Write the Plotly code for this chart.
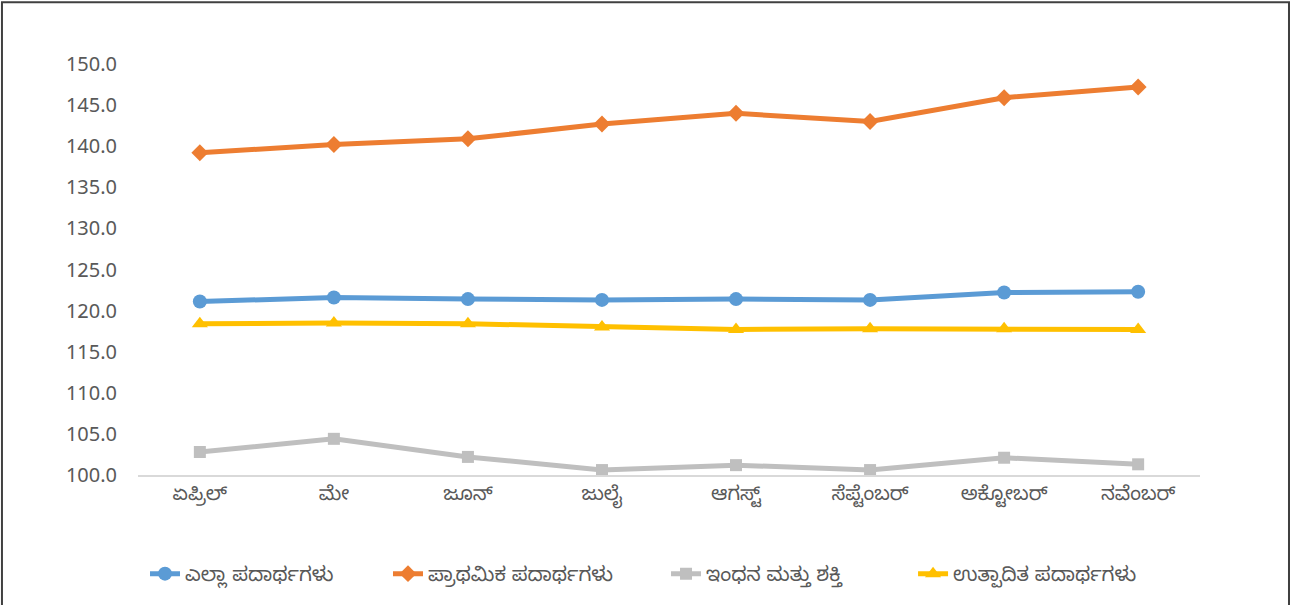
import plotly.graph_objects as go

months = ["ಏಪ್ರಿಲ್", "ಮೇ", "ಜೂನ್", "ಜುಲೈ", "ಆಗಸ್ಟ್", "ಸೆಪ್ಟೆಂಬರ್", "ಅಕ್ಟೋಬರ್", "ನವೆಂಬರ್"]
all_goods = [121.1, 121.6, 121.4, 121.3, 121.4, 121.3, 122.2, 122.3]
primary = [139.2, 140.2, 140.9, 142.7, 144.0, 143.0, 145.9, 147.2]
fuel = [102.8, 104.4, 102.2, 100.6, 101.2, 100.6, 102.1, 101.3]
manufactured = [118.4, 118.5, 118.4, 118.0, 117.7, 117.8, 117.8, 117.7]

names = ["ಎಲ್ಲಾ ಪದಾರ್ಥಗಳು", "ಪ್ರಾಥಮಿಕ ಪದಾರ್ಥಗಳು", "ಇಂಧನ ಮತ್ತು ಶಕ್ತಿ", "ಉತ್ಪಾದಿತ ಪದಾರ್ಥಗಳು"]
y_ticks = [100, 105, 110, 115, 120, 125, 130, 135, 140, 145, 150]

series = [
    (all_goods, names[0], "#5B9BD5", "circle", 14),
    (primary, names[1], "#ED7D31", "diamond", 13),
    (fuel, names[2], "#BFBFBF", "square", 12),
    (manufactured, names[3], "#FFC000", "triangle-up", 14),
]
legend_ids = ["legend", "legend2", "legend3", "legend4"]
legend_x = [0.0066, 0.2354, 0.4972, 0.7298]

fig = go.Figure()
for (vals, name, color, sym, size), lid in zip(series, legend_ids):
    fig.add_trace(go.Scatter(
        x=months, y=vals, name=name, mode="lines+markers",
        line=dict(color=color, width=5),
        marker=dict(symbol=sym, size=size, color=color),
        legend=lid,
    ))

font_family = "Noto Sans Kannada, Nirmala UI, Tunga, Noto Sans, sans-serif"

legend_common = dict(orientation="h", xanchor="left", y=-0.240, yanchor="middle",
                     font=dict(size=20, color="#595959"), bgcolor="rgba(0,0,0,0)")
legends = {lid: dict(x=lx, **legend_common) for lid, lx in zip(legend_ids, legend_x)}

fig.update_layout(
    width=1295, height=605,
    paper_bgcolor="white", plot_bgcolor="white",
    margin=dict(l=138, r=95, t=64, b=125),
    font=dict(family=font_family, color="#595959", size=19),
    showlegend=True,
    xaxis=dict(
        type="category", showgrid=False, showline=True, linecolor="#D9D9D9", linewidth=1.5,
        ticks="", tickfont=dict(size=19.5, color="#595959"), zeroline=False,
    ),
    yaxis=dict(
        range=[100, 150], tickvals=y_ticks, ticktext=[f"{v:.1f}" for v in y_ticks],
        showgrid=False, showline=False, zeroline=False, ticks="",
        tickfont=dict(size=20, color="#595959"), ticklabelstandoff=20,
    ),
    shapes=[dict(type="rect", xref="paper", yref="paper",
                 x0=-0.1281, x1=1.0838, y0=-0.5, y1=1.15,
                 line=dict(color="#404040", width=2), fillcolor="rgba(0,0,0,0)")],
    **legends,
)

fig.write_html("out.html", config={"displayModeBar": False},
               post_script="document.body.style.margin='0';document.body.style.overflow='hidden';")
